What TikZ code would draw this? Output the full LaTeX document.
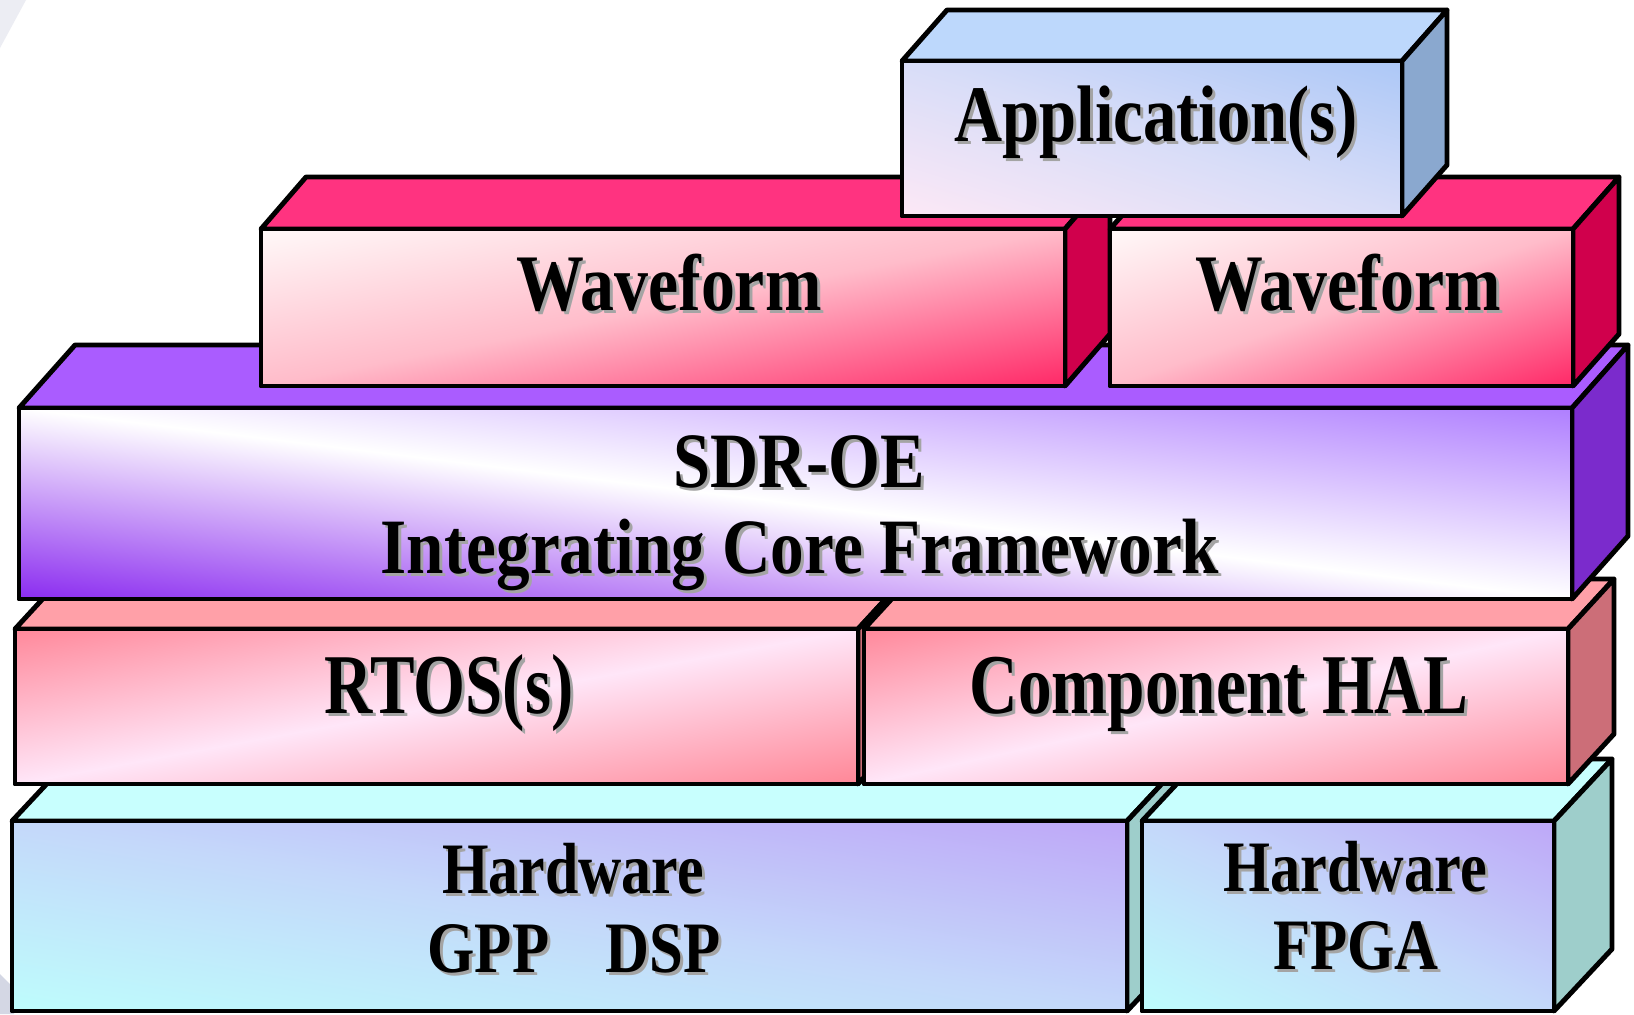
\documentclass[tikz,border=0pt]{standalone}
\usepackage{fontspec}
\setmainfont{Liberation Serif}
\usepackage{graphicx}
\definecolor{apptop}{HTML}{BDD8FC}\definecolor{appside}{HTML}{8AA8CF}
\definecolor{appA}{HTML}{FCE8F6}\definecolor{appM}{HTML}{D8DDF8}\definecolor{appB}{HTML}{ADC8F7}
\definecolor{wavtop}{HTML}{FF3380}\definecolor{wavside}{HTML}{D0004C}
\definecolor{wavA}{HTML}{FFF8F8}\definecolor{wavM}{HTML}{FFBCCA}\definecolor{wavB}{HTML}{FF2A68}
\definecolor{sdrtop}{HTML}{AA5CFF}\definecolor{sdrside}{HTML}{7B2BCC}
\definecolor{sdrA}{HTML}{8C2EF0}\definecolor{sdrM}{HTML}{FFFFFF}\definecolor{sdrB}{HTML}{B080FF}
\definecolor{rtostop}{HTML}{FFA0A8}\definecolor{rtosside}{HTML}{CC6E78}
\definecolor{rtosA}{HTML}{FF8A9C}\definecolor{rtosM}{HTML}{FFE6F8}\definecolor{rtosB}{HTML}{FF8898}
\definecolor{hwtop}{HTML}{C8FFFE}\definecolor{hwside}{HTML}{9ECECB}
\definecolor{hwA}{HTML}{BEFCFC}\definecolor{hwM}{HTML}{C4D8FA}\definecolor{hwB}{HTML}{BEA8F8}
\definecolor{shadowgray}{HTML}{A4A4A4}
\definecolor{bgfaint}{HTML}{D4D7E4}
\pgfdeclarehorizontalshading{appsh}{100bp}{color(0bp)=(appA); color(15bp)=(appA); color(50bp)=(appM); color(85bp)=(appB); color(100bp)=(appB)}
\pgfdeclarehorizontalshading{wavsh}{100bp}{color(0bp)=(wavA); color(15bp)=(wavA); color(50bp)=(wavM); color(85bp)=(wavB); color(100bp)=(wavB)}
\pgfdeclarehorizontalshading{sdrsh}{100bp}{color(0bp)=(sdrA); color(15bp)=(sdrA); color(50bp)=(sdrM); color(85bp)=(sdrB); color(100bp)=(sdrB)}
\pgfdeclarehorizontalshading{rtossh}{100bp}{color(0bp)=(rtosA); color(15bp)=(rtosA); color(50bp)=(rtosM); color(85bp)=(rtosB); color(100bp)=(rtosB)}
\pgfdeclarehorizontalshading{hwsh}{100bp}{color(0bp)=(hwA); color(15bp)=(hwA); color(50bp)=(hwM); color(85bp)=(hwB); color(100bp)=(hwB)}
\tikzset{
  edge/.style={draw=black, line width=1.4pt, line join=round},
  lbltext/.style={anchor=base, inner sep=0pt, font=\bfseries},
}
% #1 x1, #2 y1, #3 x2, #4 y2, #5 dx, #6 dy, #7 colour prefix, #8 shading angle
\newcommand\layerbox[8]{%
  \filldraw[edge, fill=#7top] (#1,#2) -- ++(#5,#6) -- ({#3+#5},{#2+#6}) -- (#3,#2) -- cycle;
  \filldraw[edge, fill=#7side] (#3,#2) -- ++(#5,#6) -- ({#3+#5},{#4+#6}) -- (#3,#4) -- cycle;
  \begin{scope}[transform canvas={shift={({(#1+#3)/2},{(#2+#4)/2})}, xscale={(#3-#1)/100}, yscale={(#4-#2)/100}}]
    \shade[shading=#7sh, shading angle=#8] (-50,-50) rectangle (50,50);
  \end{scope}
  \draw[edge] (#1,#2) rectangle (#3,#4);
}
% #1 name, #2 x, #3 baseline y, #4 size, #5 xscale, #6 text
\newcommand\lbl[6]{%
  \node[lbltext, text=shadowgray] (#1-sh) at ({#2+3},{#3+3}) {\fontsize{#4}{#4}\selectfont\scalebox{#5}[1]{#6}};
  \node[lbltext, text=black] (#1) at (#2,#3) {\fontsize{#4}{#4}\selectfont\scalebox{#5}[1]{#6}};
}
\begin{document}
\begin{tikzpicture}[x=0.01cm, y=-0.01cm]
\useasboundingbox (0,0) rectangle (1634,1014);
\fill[white] (0,0) rectangle (1634,1014);
% faint background remnants
\fill[bgfaint!45] (0,0) -- (26,0) -- (0,48) -- cycle;
\fill[bgfaint] (0,974) -- (14,988) -- (14,1014) -- (0,1014) -- cycle;
% bottom layer: hardware
\layerbox{12}{821}{1127}{1011}{58}{-62}{hw}{45}
\layerbox{1142}{821}{1554}{1011}{58}{-62}{hw}{45}
% RTOS / HAL
\layerbox{15}{629}{858}{784}{46}{-50}{rtos}{-45}
\layerbox{864}{629}{1568}{784}{46}{-50}{rtos}{-45}
% SDR-OE
\layerbox{19}{408}{1572}{599}{56}{-63}{sdr}{45}
% Waveforms
\layerbox{261}{229}{1065}{386}{45}{-52}{wav}{-45}
\layerbox{1110}{229}{1573}{386}{46}{-52}{wav}{-45}
% Application
\layerbox{902}{61}{1402}{216}{45}{-51}{app}{45}
% labels
\lbl{app}{1156}{141}{22.8pt}{0.83}{Application(s)}
\lbl{wf1}{669}{310}{22.8pt}{0.846}{Waveform}
\lbl{wf2}{1348}{310}{22.8pt}{0.846}{Waveform}
\lbl{sdr1}{799}{487}{22.3pt}{0.85}{SDR-OE}
\lbl{sdr2}{800}{573}{22.3pt}{0.857}{Integrating Core Framework}
\lbl{rtos}{449}{713}{24.2pt}{0.785}{RTOS(s)}
\lbl{hal}{1219}{713}{24.2pt}{0.79}{Component HAL}
\lbl{hw1a}{573}{893}{20.6pt}{0.826}{Hardware}
\lbl{hw1b}{574}{972}{20.6pt}{0.84}{GPP\hspace{19pt}DSP}
\lbl{hw2a}{1355}{891}{20.6pt}{0.833}{Hardware}
\lbl{hw2b}{1356}{969}{20.6pt}{0.84}{FPGA}
\end{tikzpicture}
\end{document}
